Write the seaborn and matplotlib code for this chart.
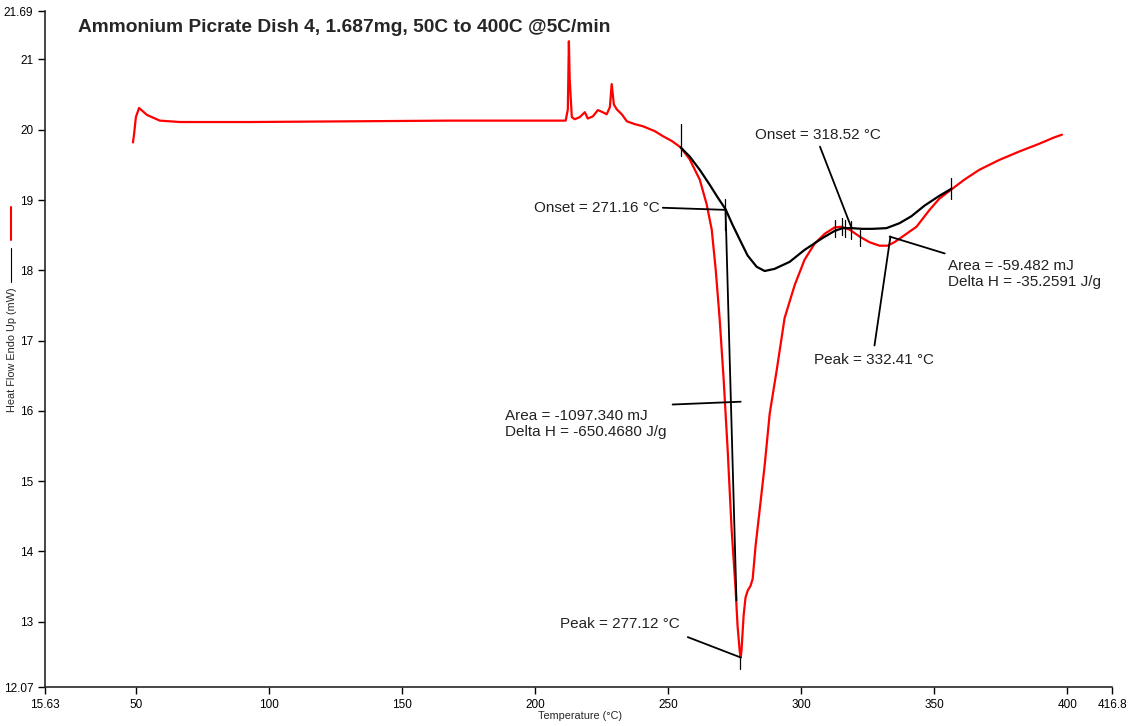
import matplotlib
matplotlib.use("Agg")
import matplotlib.pyplot as plt
from matplotlib.lines import Line2D
import seaborn as sns
import numpy as np
import pandas as pd

# sample curve (red), temperature in C and heat flow in mW
red_t = [48.7, 49.1, 49.8, 51.0, 54.0, 58.8, 66.4, 92.7, 130.2, 167.8, 209.2, 211.4,
         212.2, 212.6, 212.9, 213.7, 214.8, 216.7, 218.6, 219.7, 221.6, 223.5, 225.3,
         226.8, 228.0, 228.7, 229.5, 230.6, 232.5, 234.4, 237.4, 240.4, 244.9, 247.9,
         251.3, 254.6, 258.0, 261.8, 264.4, 266.3, 267.8, 269.3, 270.8, 272.3, 273.8,
         275.3, 276.0, 276.8, 277.2, 277.5, 278.3, 279.0, 279.8, 280.9, 281.7, 282.8,
         284.3, 286.2, 288.1, 290.7, 293.7, 297.5, 301.2, 305.0, 308.8, 312.5, 315.1,
         318.1, 321.9, 325.6, 329.4, 332.4, 335.0, 338.8, 343.3, 348.2, 351.9, 356.4,
         361.3, 366.9, 374.4, 381.9, 389.4, 395.0, 398.0]
red_hf = [19.82, 19.93, 20.18, 20.31, 20.21, 20.13, 20.11, 20.11, 20.12, 20.13, 20.13, 20.13,
          20.29, 21.26, 20.72, 20.18, 20.15, 20.18, 20.25, 20.16, 20.19, 20.28, 20.25,
          20.22, 20.32, 20.65, 20.36, 20.29, 20.22, 20.12, 20.08, 20.05, 19.98, 19.91,
          19.84, 19.75, 19.58, 19.29, 18.94, 18.58, 18.01, 17.30, 16.44, 15.44, 14.30,
          13.45, 12.95, 12.59, 12.49, 12.59, 13.09, 13.34, 13.44, 13.51, 13.61, 14.08,
          14.58, 15.22, 15.96, 16.57, 17.32, 17.79, 18.15, 18.38, 18.52, 18.61, 18.62,
          18.58, 18.48, 18.40, 18.35, 18.35, 18.40, 18.50, 18.62, 18.86, 19.02, 19.15,
          19.29, 19.43, 19.57, 19.69, 19.80, 19.89, 19.93]

# black curve
blk_t = [254.6, 258.0, 261.8, 265.5, 268.5, 271.5, 274.1, 276.8, 279.8, 283.2, 286.2,
         289.9, 295.6, 301.2, 308.0, 312.5, 315.5, 318.9, 322.7, 326.8, 332.0, 336.9,
         341.4, 346.3, 351.9, 356.4]
blk_hf = [19.75, 19.62, 19.43, 19.22, 19.04, 18.87, 18.65, 18.44, 18.21, 18.05, 17.99,
          18.02, 18.12, 18.29, 18.46, 18.56, 18.60, 18.60, 18.59, 18.59, 18.60, 18.67,
          18.77, 18.92, 19.06, 19.16]

# result marks: (temperature, low, high)
markers = [(254.6, 19.62, 20.08), (271.16, 18.58, 19.01), (312.7, 18.47, 18.72),
           (315.1, 18.50, 18.74), (316.5, 18.48, 18.72), (318.52, 18.44, 18.70),
           (322.2, 18.34, 18.57), (356.4, 19.02, 19.32), (277.12, 12.33, 12.49)]

# leader lines: ((t0, hf0), (t1, hf1))
leaders = [((247.9, 18.89), (271.5, 18.86)),
           ((271.5, 18.86), (275.6, 13.30)),
           ((251.6, 16.09), (277.2, 16.13)),
           ((257.3, 12.78), (277.2, 12.49)),
           ((307.0, 19.76), (318.9, 18.60)),
           ((333.2, 18.48), (353.9, 18.24)),
           ((327.5, 16.93), (333.5, 18.48))]

# labels: (t, hf, text, ha)
labels = [(246.7, 18.89, "Onset = 271.16 °C", "right"),
          (282.4, 19.93, "Onset = 318.52 °C", "left"),
          (355.0, 17.95, "Area = -59.482 mJ\nDelta H = -35.2591 J/g", "left"),
          (304.6, 16.72, "Peak = 332.41 °C", "left"),
          (188.5, 15.81, "Area = -1097.340 mJ\nDelta H = -650.4680 J/g", "left"),
          (209.2, 12.97, "Peak = 277.12 °C", "left")]

x_ticks = [15.63, 50, 100, 150, 200, 250, 300, 350, 400, 416.8]
y_ticks = [12.07, 13, 14, 15, 16, 17, 18, 19, 20, 21, 21.69]

sns.set_style("ticks")
plt.rcParams['font.family'] = ['Liberation Sans', 'DejaVu Sans']

fig = plt.figure(figsize=(11.3, 7.26), dpi=100)
ax = fig.add_axes([45 / 1130, 1 - 687 / 726, (1112 - 45) / 1130, (687 - 11) / 726])

red = pd.DataFrame({"t": red_t, "hf": red_hf})
blk = pd.DataFrame({"t": blk_t, "hf": blk_hf})
sns.lineplot(data=red, x="t", y="hf", sort=False, color="#ff0000", lw=1.6, ax=ax, zorder=3)
sns.lineplot(data=blk, x="t", y="hf", sort=False, color="black", lw=1.6, ax=ax, zorder=4)

for t, lo, hi in markers:
    ax.plot([t, t], [lo, hi], color="black", lw=0.9, zorder=5)
for (t0, h0), (t1, h1) in leaders:
    ax.plot([t0, t1], [h0, h1], color="black", lw=1.3, zorder=5)
for t, h, s, ha in labels:
    ax.text(t, h, s, ha=ha, va="center", fontsize=11, color="#222222", linespacing=1.15)

ax.set_xlim(x_ticks[0], x_ticks[-1])
ax.set_ylim(y_ticks[0], y_ticks[-1])
ax.set_xticks(x_ticks)
ax.set_xticklabels([f"{v:g}" for v in x_ticks])
ax.set_yticks(y_ticks)
ax.set_yticklabels([f"{v:g}" for v in y_ticks])
ax.tick_params(labelsize=8.5, length=5, width=1, colors="black", direction="out")
for side in ["top", "right"]:
    ax.spines[side].set_visible(False)
for side in ["left", "bottom"]:
    ax.spines[side].set_linewidth(1.2)
ax.set_xlabel("")
ax.set_ylabel("")

fig.text(580 / 1130, 1 - 716 / 726, "Temperature (°C)", ha="center", va="center", fontsize=7.8)
fig.text(12 / 1130, 1 - 350 / 726, "Heat Flow Endo Up (mW)", rotation=90,
         ha="center", va="center", fontsize=7.8)
fig.text(78 / 1130, 1 - 27 / 726, "Ammonium Picrate Dish 4, 1.687mg, 50C to 400C @5C/min",
         ha="left", va="center", fontsize=13.8, fontweight="bold")

# series keys beside the axis label
fig.add_artist(Line2D([11 / 1130, 11 / 1130], [1 - 207 / 726, 1 - 240 / 726], color="#ff0000", lw=1.5))
fig.add_artist(Line2D([11 / 1130, 11 / 1130], [1 - 248 / 726, 1 - 282 / 726], color="black", lw=0.8))

fig.savefig("out.png", dpi=100)
